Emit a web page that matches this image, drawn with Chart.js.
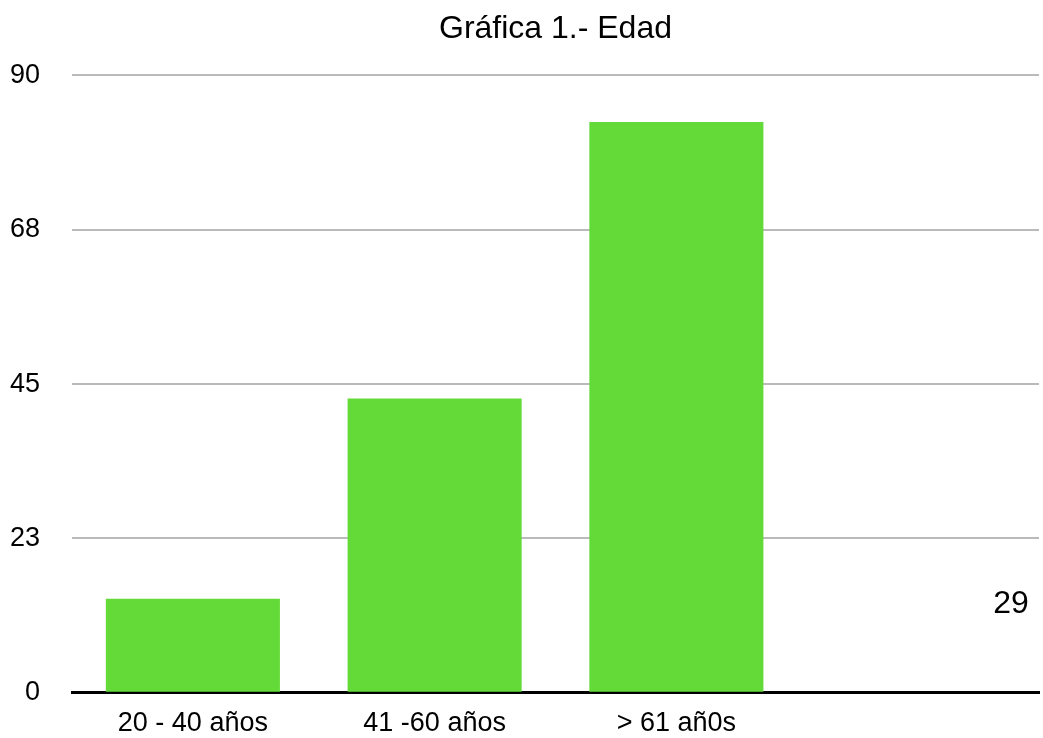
<!DOCTYPE html>
<html>
<head>
<meta charset="utf-8">
<script src="https://cdn.jsdelivr.net/npm/chart.js@4/dist/chart.umd.min.js"></script>
<style>
  html, body { margin: 0; padding: 0; background: #fff; overflow: hidden; }
  #frame { width: 1043px; height: 738px; overflow: hidden; }
  #wrap { width: 1043px; height: 741px; position: relative; }
</style>
</head>
<body>
<div id="frame"><div id="wrap"><canvas id="c"></canvas></div></div>
<script>
// Age groups and counts
const categories = ['20 - 40 años', '41 -60 años', '> 61 añ0s', ''];
const counts = [13.7, 42.9, 83.2, null];
const yTicks = [0, 22.5, 45, 67.5, 90];
const chartTitle = 'Gráfica 1.- Edad';
const sideNote = '29';

const FONT = '"Liberation Sans", Arial, Helvetica, sans-serif';

// Free-standing number drawn near the lower right of the plot
const sideNotePlugin = {
  id: 'sideNote',
  afterDraw(chart) {
    const { ctx, chartArea } = chart;
    ctx.save();
    ctx.font = '32px ' + FONT;
    ctx.fillStyle = '#000';
    ctx.textAlign = 'center';
    ctx.textBaseline = 'middle';
    ctx.fillText(sideNote, chartArea.right - 28, chartArea.bottom - 89);
    ctx.restore();
  }
};

new Chart(document.getElementById('c'), {
  type: 'bar',
  data: {
    labels: categories,
    datasets: [{
      data: counts,
      backgroundColor: '#63DA38',
      borderWidth: 0,
      barPercentage: 0.72,
      categoryPercentage: 1
    }]
  },
  options: {
    responsive: true,
    maintainAspectRatio: false,
    animation: false,
    layout: { padding: { left: 0, right: 4, top: 0, bottom: 0 } },
    plugins: {
      legend: { display: false },
      tooltip: { enabled: false },
      title: {
        display: true,
        fullSize: false,
        text: chartTitle,
        color: '#000',
        font: { family: FONT, size: 32, weight: 'normal' },
        padding: { top: 10, bottom: 27 }
      }
    },
    scales: {
      x: {
        grid: { display: false, drawTicks: false },
        border: { display: true, color: '#000', width: 3 },
        ticks: {
          color: '#000',
          font: { family: FONT, size: 27 },
          padding: 15,
          maxRotation: 0,
          autoSkip: false
        },
        afterFit(scale) { scale.height = 45; }
      },
      y: {
        min: 0,
        max: 90,
        afterBuildTicks(scale) {
          scale.ticks = yTicks.map(v => ({ value: v }));
        },
        ticks: {
          color: '#000',
          font: { family: FONT, size: 27 },
          padding: 32,
          callback: v => String(Math.round(v))
        },
        grid: {
          drawTicks: false,
          color: ctx => ctx.tick && ctx.tick.value === 0 ? 'rgba(0,0,0,0)' : '#BABABA',
          lineWidth: 2
        },
        border: { display: false },
        afterFit(scale) { scale.width = 72; }
      }
    }
  },
  plugins: [sideNotePlugin]
});
</script>
</body>
</html>
